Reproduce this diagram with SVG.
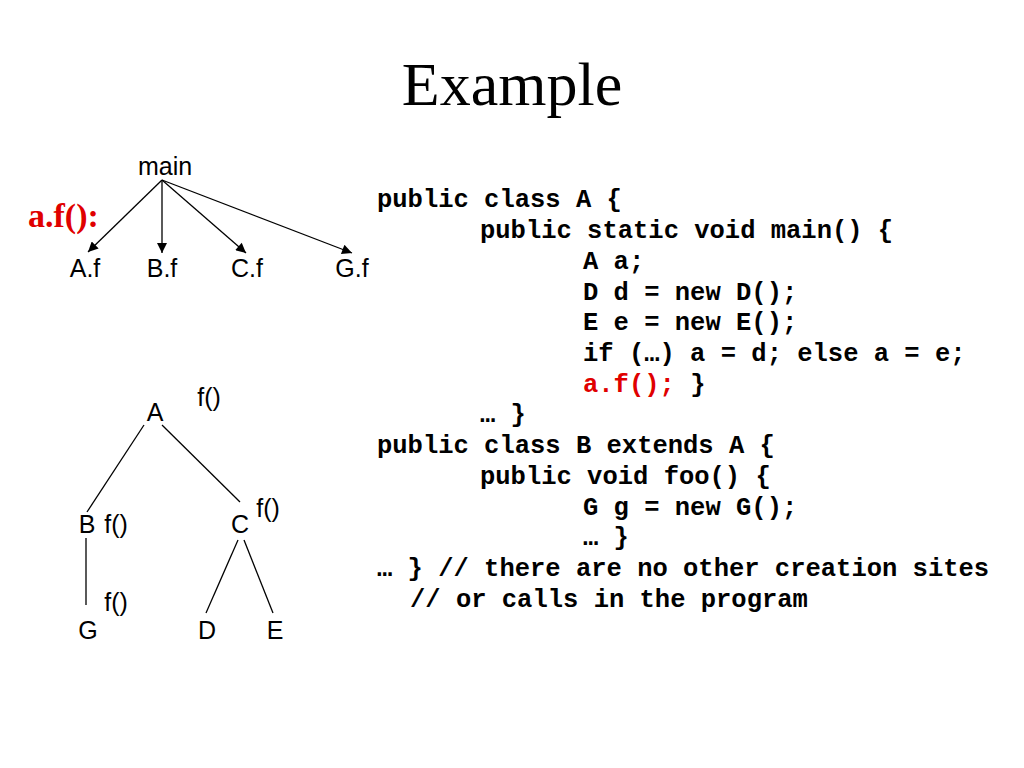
<svg xmlns="http://www.w3.org/2000/svg" width="1024" height="768" viewBox="0 0 1024 768">
<style>
.t{font-family:"Liberation Sans",Arial,sans-serif;font-size:25px;fill:#000;text-anchor:middle}
.c{font-family:"Liberation Mono","Courier New",monospace;font-size:25.5px;font-weight:bold;fill:#000;white-space:pre}
.e{stroke:#000;stroke-width:1.3;fill:none}
</style>
<defs>
<marker id="ah" viewBox="0 0 10 10" refX="10" refY="5" markerWidth="11" markerHeight="10" markerUnits="userSpaceOnUse" orient="auto">
<path d="M0,0 L10,5 L0,10 z" fill="#000"/>
</marker>
</defs>
<rect width="1024" height="768" fill="#fff"/>
<text x="512" y="105" text-anchor="middle" font-family="'Liberation Serif','Times New Roman',serif" font-size="62" fill="#000">Example</text>
<text x="28" y="227" font-family="'Liberation Serif','Times New Roman',serif" font-size="34" font-weight="bold" fill="#e00000">a.f():</text>
<g id="connectors">
<line class="e" x1="162" y1="180" x2="88" y2="252" marker-end="url(#ah)"/>
<line class="e" x1="162" y1="180" x2="162" y2="253" marker-end="url(#ah)"/>
<line class="e" x1="162" y1="180" x2="246" y2="253" marker-end="url(#ah)"/>
<line class="e" x1="162" y1="180" x2="352" y2="253" marker-end="url(#ah)"/>
<line class="e" x1="144" y1="425" x2="87" y2="512"/>
<line class="e" x1="162" y1="425" x2="240" y2="502"/>
<line class="e" x1="86" y1="538" x2="86" y2="605"/>
<line class="e" x1="238" y1="540" x2="206" y2="613"/>
<line class="e" x1="244" y1="540" x2="273" y2="613"/>
</g>
<g id="main"><text class="t" x="165" y="175">main</text></g>
<g id="Af"><text class="t" x="85" y="277">A.f</text></g>
<g id="Bf"><text class="t" x="162" y="277">B.f</text></g>
<g id="Cf"><text class="t" x="247" y="277">C.f</text></g>
<g id="Gf"><text class="t" x="352" y="277">G.f</text></g>
<g id="A"><text class="t" x="155" y="421">A</text><text class="t" x="209" y="406">f()</text></g>
<g id="B"><text class="t" x="87" y="533">B</text><text class="t" x="116" y="533">f()</text></g>
<g id="C"><text class="t" x="240" y="533">C</text><text class="t" x="268" y="517">f()</text></g>
<g id="G"><text class="t" x="88" y="639">G</text><text class="t" x="116" y="611">f()</text></g>
<g id="D"><text class="t" x="207" y="639">D</text></g>
<g id="E"><text class="t" x="275" y="639">E</text></g>
<g id="code">
<text class="c" x="377" y="207">public class A {</text>
<text class="c" x="480" y="238">public static void main() {</text>
<text class="c" x="583" y="269">A a;</text>
<text class="c" x="583" y="300">D d = new D();</text>
<text class="c" x="583" y="330">E e = new E();</text>
<text class="c" x="583" y="361">if (…) a = d; else a = e;</text>
<text class="c" x="583" y="392"><tspan fill="#e00000">a.f();</tspan> }</text>
<text class="c" x="480" y="422">… }</text>
<text class="c" x="377" y="453">public class B extends A {</text>
<text class="c" x="480" y="484">public void foo() {</text>
<text class="c" x="583" y="515">G g = new G();</text>
<text class="c" x="583" y="545">… }</text>
<text class="c" x="377" y="576">… } // there are no other creation sites</text>
<text class="c" x="410" y="607">// or calls in the program</text>
</g>
</svg>
